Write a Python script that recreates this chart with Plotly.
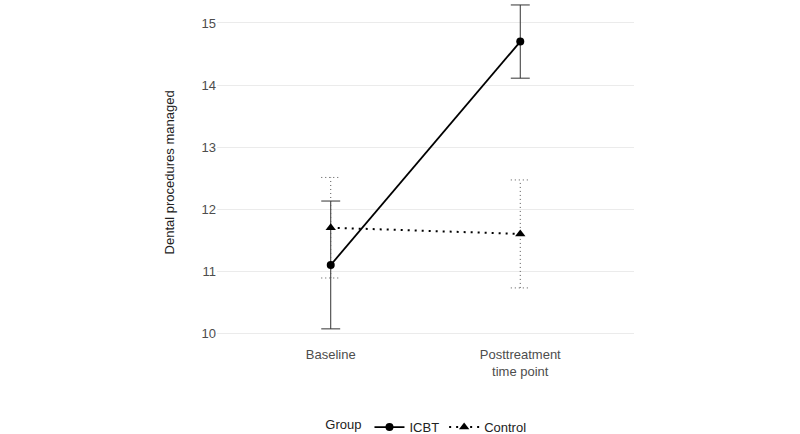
import plotly.graph_objects as go

time_points = ["Baseline", "Posttreatment<br>time point"]
x_pos = [1, 2]
icbt_mean = [11.10, 14.70]
icbt_err = [1.03, 0.59]
control_mean = [11.70, 11.60]
control_err = [0.81, 0.87]
cap_half = 0.05

def errbar_path(xs, ys, es, w):
    px, py = [], []
    for x, y, e in zip(xs, ys, es):
        lo, hi = y - e, y + e
        px += [x, x, None, x - w, x + w, None, x - w, x + w, None]
        py += [lo, hi, None, hi, hi, None, lo, lo, None]
    return px, py

fig = go.Figure()

ex, ey = errbar_path(x_pos, icbt_mean, icbt_err, cap_half)
fig.add_trace(go.Scatter(x=ex, y=ey, mode="lines", line=dict(color="#333333", width=1),
                         showlegend=False, hoverinfo="skip"))
ex, ey = errbar_path(x_pos, control_mean, control_err, cap_half)
fig.add_trace(go.Scatter(x=ex, y=ey, mode="lines", line=dict(color="#555555", width=1, dash="1px,3px"),
                         showlegend=False, hoverinfo="skip"))

fig.add_trace(go.Scatter(x=x_pos, y=icbt_mean, mode="lines+markers", name="ICBT",
                         line=dict(color="black", width=1.8),
                         marker=dict(symbol="circle", size=8, color="black")))
fig.add_trace(go.Scatter(x=x_pos, y=control_mean, mode="lines+markers", name="Control",
                         line=dict(color="black", width=2, dash="2px,5px"),
                         marker=dict(symbol="triangle-up", size=9, color="black")))

fig.update_layout(
    width=800, height=434,
    margin=dict(l=217, r=166, t=0, b=89, autoexpand=False),
    paper_bgcolor="white", plot_bgcolor="white",
    font=dict(family="Liberation Sans, Arial, sans-serif", size=13, color="#222222"),
    xaxis=dict(range=[0.4, 2.6], tickvals=x_pos, ticktext=time_points,
               showgrid=False, zeroline=False, showline=False, ticks="",
               tickfont=dict(color="#4d4d4d", size=13), automargin=False),
    yaxis=dict(range=[9.81, 15.37], tickvals=[10, 11, 12, 13, 14, 15],
               showgrid=True, gridcolor="#ebebeb", gridwidth=1.2,
               zeroline=False, showline=False, ticks="",
               tickfont=dict(color="#4d4d4d", size=13), automargin=False),
    annotations=[dict(text="Dental procedures managed", textangle=-90,
                      xref="paper", yref="paper", x=-0.113, y=0.5,
                      xanchor="center", yanchor="middle", showarrow=False,
                      font=dict(size=13, color="#222222"))],
    legend=dict(orientation="h", x=0.255, xanchor="left", y=-0.238, yanchor="middle",
                title=dict(text="Group", side="left", font=dict(size=13)), font=dict(size=13),
                itemwidth=30, tracegroupgap=0),
    showlegend=True,
)

fig.write_html("out.html", config={"displayModeBar": False},
               post_script="document.body.style.margin='0';document.body.style.overflow='hidden';")
